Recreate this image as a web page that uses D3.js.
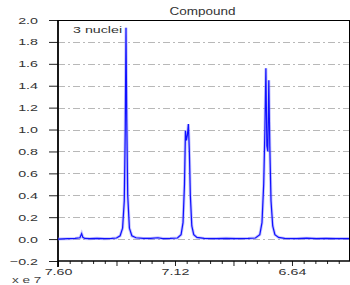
<!DOCTYPE html>
<html>
<head>
<meta charset="utf-8">
<script src="https://cdn.jsdelivr.net/npm/d3@7"></script>
<style>
  body { margin: 0; background: #fff; }
  svg { display: block; font-family: "Liberation Sans", Arial, sans-serif; }
  .tick text { fill: #333; }
</style>
</head>
<body>
<svg id="chart"></svg>
<script>
// values (shift in units of 1e7, intensity)
var shift = [7.60, 7.56, 7.53, 7.51, 7.503, 7.498, 7.49, 7.47, 7.44, 7.41, 7.38, 7.36,
  7.345, 7.335, 7.328, 7.324, 7.321, 7.318, 7.314, 7.307, 7.297, 7.28, 7.25, 7.22,
  7.19, 7.17, 7.14, 7.11, 7.095, 7.087, 7.081, 7.077, 7.073, 7.069, 7.065, 7.061,
  7.057, 7.051, 7.043, 7.03, 7.00, 6.95, 6.91, 6.87, 6.82, 6.79, 6.772, 6.763,
  6.756, 6.751, 6.747, 6.743, 6.739, 6.735, 6.731, 6.726, 6.719, 6.71, 6.695,
  6.67, 6.62, 6.58, 6.54, 6.50, 6.46, 6.406];
var intensity = [0.0, 0.004, 0.006, 0.012, 0.05, 0.016, 0.006, 0.004, 0.007, 0.004, 0.006, 0.01,
  0.03, 0.10, 0.35, 1.0, 1.93, 1.1, 0.40, 0.10, 0.03, 0.012, 0.006, 0.006,
  0.012, 0.005, 0.006, 0.01, 0.04, 0.15, 0.50, 0.99, 0.90, 0.95, 1.05, 0.80,
  0.40, 0.12, 0.04, 0.015, 0.006, 0.005, 0.007, 0.005, 0.006, 0.01, 0.04, 0.15,
  0.50, 1.00, 1.56, 0.85, 0.80, 1.45, 0.85, 0.35, 0.12, 0.04, 0.015,
  0.006, 0.005, 0.008, 0.005, 0.006, 0.005, 0.005];
var yTicks = [-0.2, 0.0, 0.2, 0.4, 0.6, 0.8, 1.0, 1.2, 1.4, 1.6, 1.8, 2.0];
var xMajor = [7.60, 7.36, 7.12, 6.88, 6.64, 6.40];
var xLabels = [7.60, 7.12, 6.64];
var xMinor = [7.552, 7.504, 7.456, 7.408, 7.312, 7.264, 7.216, 7.168, 7.072, 7.024, 6.976, 6.928,
  6.832, 6.784, 6.736, 6.688, 6.592, 6.544, 6.496, 6.448];

var W = 350, H = 285;
var mLeft = 58, mRight = 349, mTop = 20, mBottom = 261;

var svg = d3.select('#chart').attr('width', W).attr('height', H);

var x = d3.scaleLinear().domain([7.60, 6.406]).range([mLeft, mRight]);
var y = d3.scaleLinear().domain([-0.2, 2.0]).range([mBottom, mTop]);

// the original text is drawn wide, stretch it sideways
function stretch(sel, k) {
  sel.each(function() {
    var w = this.getComputedTextLength();
    if (w > 0) {
      d3.select(this).attr('textLength', w * k).attr('lengthAdjust', 'spacingAndGlyphs');
    }
  });
}

// grid
svg.append('g')
  .selectAll('line')
  .data(yTicks.filter(function(d) { return d > -0.2 && d < 2.0; }))
  .enter().append('line')
  .attr('x1', mLeft).attr('x2', mRight)
  .attr('y1', function(d) { return Math.round(y(d)) + 0.5; })
  .attr('y2', function(d) { return Math.round(y(d)) + 0.5; })
  .attr('stroke', '#b8b8b8')
  .attr('stroke-width', 1)
  .attr('stroke-dasharray', '7,3,2,3');

// frame
svg.append('line').attr('x1', mLeft).attr('x2', mRight).attr('y1', mTop + 0.5).attr('y2', mTop + 0.5)
  .attr('stroke', '#000').attr('stroke-width', 1);
svg.append('line').attr('x1', mRight + 0.5).attr('x2', mRight + 0.5).attr('y1', mTop).attr('y2', mBottom)
  .attr('stroke', '#000').attr('stroke-width', 1);

// y axis
var yAxis = d3.axisLeft(y).tickValues(yTicks).tickFormat(d3.format('.1f'))
  .tickSize(9).tickPadding(11);
var gy = svg.append('g').attr('transform', 'translate(' + mLeft + ',0)').call(yAxis);
gy.select('.domain').remove();
gy.selectAll('.tick line').attr('stroke', '#222');
gy.selectAll('.tick text').style('font-size', '9.5px');
stretch(gy.selectAll('.tick text'), 1.5);

// x axis
var gxMinor = svg.append('g').attr('transform', 'translate(0,' + mBottom + ')')
  .call(d3.axisBottom(x).tickValues(xMinor).tickSize(3).tickFormat(''));
gxMinor.select('.domain').remove();
gxMinor.selectAll('.tick line').attr('stroke', '#222');

var gx = svg.append('g').attr('transform', 'translate(0,' + mBottom + ')')
  .call(d3.axisBottom(x).tickValues(xMajor).tickSize(5).tickPadding(2)
    .tickFormat(function(d) { return xLabels.indexOf(d) >= 0 ? d3.format('.2f')(d) : ''; }));
gx.select('.domain').remove();
gx.selectAll('.tick line').attr('stroke', '#222');
gx.selectAll('.tick text').style('font-size', '9.5px');
stretch(gx.selectAll('.tick text'), 1.5);

svg.append('line').attr('x1', mLeft).attr('x2', mRight + 1).attr('y1', mBottom).attr('y2', mBottom)
  .attr('stroke', '#000').attr('stroke-width', 1.6);
svg.append('line').attr('x1', mLeft).attr('x2', mLeft).attr('y1', mTop).attr('y2', mBottom + 6)
  .attr('stroke', '#000').attr('stroke-width', 1.8);

// texts
var title = svg.append('text').attr('x', (mLeft + mRight) / 2 - 1).attr('y', 15)
  .attr('text-anchor', 'middle').style('font-size', '10px').attr('fill', '#333')
  .text('Compound');
var note = svg.append('text').attr('x', 73).attr('y', 33)
  .style('font-size', '9.5px').attr('fill', '#333')
  .text('3 nuclei');
var unit = svg.append('text').attr('x', 12).attr('y', 283)
  .style('font-size', '9px').attr('fill', '#444')
  .text('x e 7');
stretch(title, 1.35);
stretch(note, 1.5);
stretch(unit, 1.5);

// spectrum
var pts = shift.map(function(s, i) { return [s, intensity[i]]; });
var line = d3.line()
  .x(function(d) { return x(d[0]); })
  .y(function(d) { return y(d[1]); });

svg.append('path').datum(pts)
  .attr('d', line)
  .attr('fill', 'none')
  .attr('stroke', '#8c8cff')
  .attr('stroke-opacity', 0.5)
  .attr('stroke-width', 3);
svg.append('path').datum(pts)
  .attr('d', line)
  .attr('fill', 'none')
  .attr('stroke', '#1010ff')
  .attr('stroke-width', 1.2);
</script>
</body>
</html>
